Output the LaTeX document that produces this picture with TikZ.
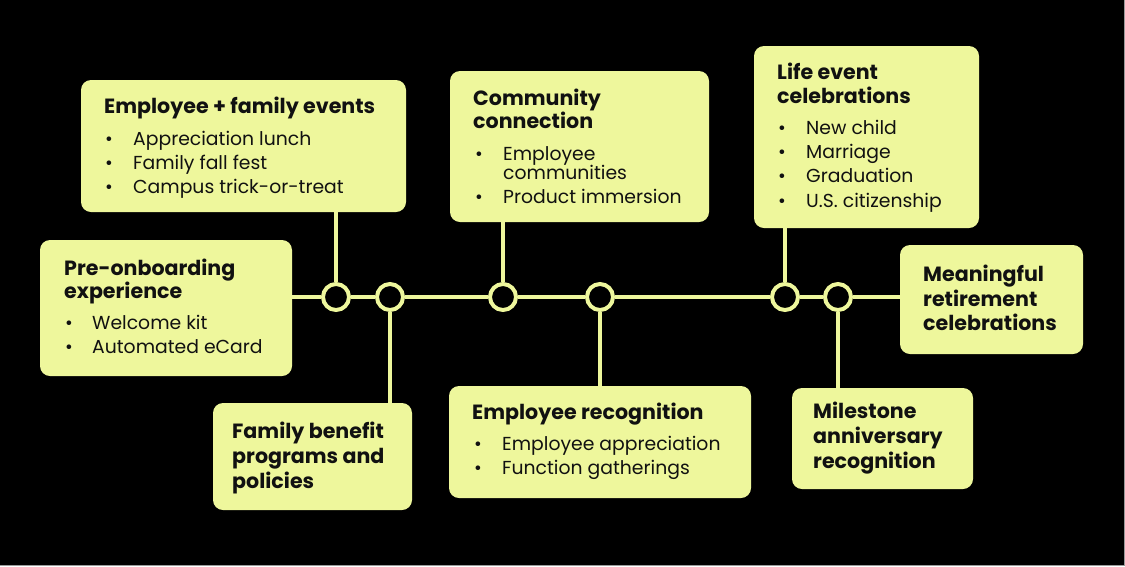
\documentclass[tikz,border=0pt]{standalone}
\usepackage{fontspec}
\setmainfont{Poppins}
\definecolor{lime}{HTML}{EEF79C}
\definecolor{ink}{HTML}{111111}
\definecolor{edge}{HTML}{9A9A9A}
\begin{document}
\begin{tikzpicture}[x=1pt,y=-1pt,
  box/.style={fill=lime, rounded corners=10pt, inner sep=0pt, draw=none},
  ttl/.style={anchor=base west, inner sep=0pt, text=ink, font=\bfseries\fontsize{20.6}{20.6}\selectfont},
  itm/.style={anchor=base west, inner sep=0pt, text=ink, font=\fontsize{18.8}{18.8}\selectfont},
  dot/.style={circle, draw=lime, line width=4pt, fill=black, minimum size=26pt, inner sep=0pt},
  link/.style={draw=lime, line width=4pt}]
\newcommand{\bul}[1]{\makebox[#1pt][l]{\hspace{1pt}•}}
% background
\fill[black] (0,0) rectangle (1125,566);
\useasboundingbox (0,0) rectangle (1125,566);
\draw[edge, line width=1pt] (1124.5,0) -- (1124.5,566);
\draw[edge, line width=1pt] (0,565.5) -- (1125,565.5);

% boxes
\node[box, minimum width=325pt, minimum height=132pt] (emp)  at (243.5,146) {};
\node[box, minimum width=252pt, minimum height=136pt] (pre)  at (166,308) {};
\node[box, minimum width=199pt, minimum height=107pt] (fam)  at (312.5,456.5) {};
\node[box, minimum width=259pt, minimum height=151pt] (comm) at (579.5,146.5) {};
\node[box, minimum width=302pt, minimum height=112pt] (rec)  at (600,442) {};
\node[box, minimum width=225pt, minimum height=182pt] (life) at (866.5,137) {};
\node[box, minimum width=183pt, minimum height=109pt] (mean) at (991.5,299.5) {};
\node[box, minimum width=181pt, minimum height=101pt] (mile) at (882.5,438.5) {};

% timeline circles
\node[dot] (c1) at (336,297) {};
\node[dot] (c2) at (390,297) {};
\node[dot] (c3) at (503,297) {};
\node[dot] (c4) at (600,297) {};
\node[dot] (c5) at (785,297) {};
\node[dot] (c6) at (838,297) {};

% connectors
\draw[link] (pre.east |- c1) -- (c1) -- (c2) -- (c3) -- (c4) -- (c5) -- (c6) -- (mean.west |- c6);
\draw[link] (emp.south -| c1) -- (c1);
\draw[link] (fam.north -| c2) -- (c2);
\draw[link] (comm.south -| c3) -- (c3);
\draw[link] (rec.north -| c4) -- (c4);
\draw[link] (life.south -| c5) -- (c5);
\draw[link] (mile.north -| c6) -- (c6);

% texts: Employee + family events
\node[ttl] (emp-t) at (104,113) {Employee + family events};
\node[itm] (emp-1) at (104,145) {\bul{29}Appreciation lunch};
\node[itm] (emp-2) at (104,169) {\bul{29}Family fall fest};
\node[itm] (emp-3) at (104,193) {\bul{29}Campus trick-or-treat};

% Pre-onboarding
\node[ttl] (pre-t1) at (64,275) {Pre-onboarding};
\node[ttl] (pre-t2) at (64,298) {experience};
\node[itm] (pre-1) at (64,329) {\bul{28}Welcome kit};
\node[itm] (pre-2) at (64,353) {\bul{28}Automated eCard};

% Family benefit
\node[ttl] (fam-t1) at (232,438) {Family benefit};
\node[ttl] (fam-t2) at (232,463) {programs and};
\node[ttl] (fam-t3) at (232,488) {policies};

% Community connection
\node[ttl] (comm-t1) at (473,105) {Community};
\node[ttl] (comm-t2) at (473,128) {connection};
\node[itm] (comm-1) at (474,160) {\bul{29}Employee};
\node[itm] (comm-1b) at (503,179) {communities};
\node[itm] (comm-2) at (474,203) {\bul{29}Product immersion};

% Employee recognition
\node[ttl] (rec-t) at (472,419) {Employee recognition};
\node[itm] (rec-1) at (473,450) {\bul{29}Employee appreciation};
\node[itm] (rec-2) at (473,474) {\bul{29}Function gatherings};

% Life event celebrations
\node[ttl] (life-t1) at (777,79) {Life event};
\node[ttl] (life-t2) at (777,103) {celebrations};
\node[itm] (life-1) at (777,134) {\bul{29}New child};
\node[itm] (life-2) at (777,158) {\bul{29}Marriage};
\node[itm] (life-3) at (777,182) {\bul{29}Graduation};
\node[itm] (life-4) at (777,207) {\bul{29}U.S. citizenship};

% Meaningful retirement
\node[ttl] (mean-t1) at (923,281) {Meaningful};
\node[ttl] (mean-t2) at (923,306) {retirement};
\node[ttl] (mean-t3) at (923,330) {celebrations};

% Milestone
\node[ttl] (mile-t1) at (813,418) {Milestone};
\node[ttl] (mile-t2) at (813,443) {anniversary};
\node[ttl] (mile-t3) at (813,468) {recognition};
\end{tikzpicture}
\end{document}
